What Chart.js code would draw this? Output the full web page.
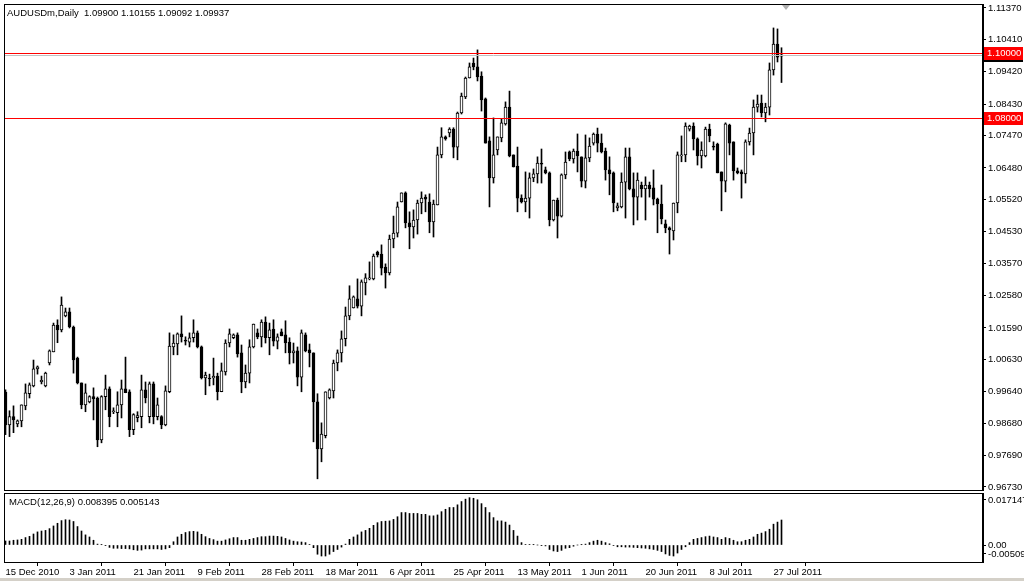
<!DOCTYPE html>
<html>
<head>
<meta charset="utf-8">
<script src="https://cdn.jsdelivr.net/npm/chart.js@4.4.0/dist/chart.umd.min.js"></script>
<style>
html, body { margin: 0; padding: 0; background: #fff; }
#wrap { position: relative; width: 1024px; height: 581px; overflow: hidden; }
#main { position: absolute; left: 0; top: 0; }
#macd { position: absolute; left: 0; top: 492px; }
#strip { position: absolute; left: 0; top: 578px; width: 1024px; height: 3px; background: #d4d0c8; }
</style>
</head>
<body>
<div id="wrap">
<canvas id="main" width="1024" height="492"></canvas>
<canvas id="macd" width="1024" height="86"></canvas>
<div id="strip"></div>
</div>
<script>
var symbol = 'AUDUSDm,Daily';
var macdName = 'MACD(12,26,9)';
var macdSignalLast = 0.005143;

// 6 bars a week (Sun-Fri), 15 Dec 2010 .. 29 Jul 2011
var dateLabels = ['15 Dec 2010', '3 Jan 2011', '21 Jan 2011', '9 Feb 2011', '28 Feb 2011', '18 Mar 2011',
    '6 Apr 2011', '25 Apr 2011', '13 May 2011', '1 Jun 2011', '20 Jun 2011', '8 Jul 2011', '27 Jul 2011'];
var dateStep = 16;

var priceTicks = [1.11370, 1.10410, 1.09420, 1.08430, 1.07470, 1.06480, 1.05520, 1.04530,
    1.03570, 1.02580, 1.01590, 1.00630, 0.99640, 0.98680, 0.97690, 0.96730];
var levels = [1.10000, 1.08000];

var macdTickValues = [0.01512, 0, -0.00302];
var macdTickLabels = ['0.017147', '0.00', '-0.00509'];

var opens = [
    0.9963, 0.9863, 0.9888, 0.9866, 0.9875, 0.9921, 0.9958, 0.9982, 1.0034, 0.9995,
    0.9982, 1.0052, 1.0086, 1.0168, 1.0153, 1.0196, 1.0208, 1.0162, 1.0067, 0.9991,
    0.9924, 0.9933, 0.9949, 0.9945, 0.9817, 0.9949, 0.9973, 0.9903, 0.9900, 0.9924,
    0.9973, 0.9964, 0.9848, 0.9885, 0.9888, 0.9970, 0.9888, 0.9988, 0.9888, 0.9888,
    0.9863, 0.9964, 1.0101, 1.0110, 1.0141, 1.0122, 1.0116, 1.0129, 1.0144, 1.0101,
    1.0006, 1.0006, 1.0006, 1.0012, 0.9964, 1.0025, 1.0113, 1.0129, 1.0138, 1.0083,
    0.9994, 1.0021, 1.0101, 1.0144, 1.0132, 1.0177, 1.0129, 1.0156, 1.0119, 1.0147,
    1.0138, 1.0116, 1.0083, 1.0089, 1.0009, 1.0138, 1.0092, 1.0083, 0.9933, 0.9789,
    0.9830, 0.9945, 0.9967, 1.0052, 1.0083, 1.0126, 1.0196, 1.0220, 1.0248, 1.0226,
    1.0297, 1.0309, 1.0309, 1.0391, 1.0385, 1.0345, 1.0327, 1.0431, 1.0449, 1.0544,
    1.0572, 1.0480, 1.0468, 1.0489, 1.0541, 1.0559, 1.0544, 1.0483, 1.0535, 1.0688,
    1.0743, 1.0755, 1.0767, 1.0712, 1.0816, 1.0865, 1.0923, 1.0969, 1.0957, 1.0929,
    1.0859, 1.0731, 1.0618, 1.0703, 1.0740, 1.0783, 1.0834, 1.0688, 1.0654, 1.0556,
    1.0544, 1.0556, 1.0618, 1.0630, 1.0663, 1.0642, 1.0633, 1.0489, 1.0550, 1.0501,
    1.0627, 1.0697, 1.0676, 1.0700, 1.0682, 1.0608, 1.0679, 1.0724, 1.0752, 1.0724,
    1.0700, 1.0642, 1.0633, 1.0526, 1.0529, 1.0605, 1.0682, 1.0584, 1.0559, 1.0596,
    1.0584, 1.0596, 1.0587, 1.0553, 1.0538, 1.0477, 1.0465, 1.0456, 1.0541, 1.0685,
    1.0688, 1.0767, 1.0776, 1.0737, 1.0685, 1.0685, 1.0767, 1.0715, 1.0721, 1.0636,
    1.0608, 1.0779, 1.0728, 1.0639, 1.0636, 1.0630, 1.0728, 1.0755, 1.0834, 1.0846,
    1.0816, 1.0834, 1.0948, 1.1027, 1.09900
];
var highs = [
    0.9970, 0.9906, 0.9921, 0.9878, 0.9924, 0.9988, 0.9991, 1.0061, 1.0043, 1.0012,
    1.0024, 1.0092, 1.0174, 1.0184, 1.0254, 1.0220, 1.0220, 1.0165, 1.0070, 0.9991,
    0.9988, 0.9952, 0.9976, 0.9948, 0.9952, 1.0015, 0.9979, 0.9915, 0.9964, 1.0000,
    1.0070, 0.9970, 0.9897, 0.9903, 1.0015, 0.9994, 0.9994, 0.9994, 0.9945, 0.9891,
    0.9982, 1.0144, 1.0138, 1.0144, 1.0196, 1.0132, 1.0144, 1.0184, 1.0150, 1.0104,
    1.0024, 1.0018, 1.0067, 1.0021, 1.0052, 1.0123, 1.0156, 1.0141, 1.0144, 1.0107,
    1.0046, 1.0123, 1.0171, 1.0156, 1.0184, 1.0193, 1.0174, 1.0184, 1.0141, 1.0156,
    1.0181, 1.0129, 1.0113, 1.0101, 1.0153, 1.0144, 1.0110, 1.0083, 0.9958, 0.9869,
    0.9964, 0.9973, 1.0061, 1.0092, 1.0150, 1.0223, 1.0288, 1.0257, 1.0309, 1.0306,
    1.0325, 1.0361, 1.0385, 1.0394, 1.0413, 1.0355, 1.0443, 1.0501, 1.0544, 1.0572,
    1.0575, 1.0514, 1.0520, 1.0550, 1.0575, 1.0566, 1.0569, 1.0550, 1.0712, 1.0771,
    1.0746, 1.0771, 1.0771, 1.0819, 1.0877, 1.0926, 1.0969, 1.0984, 1.1009, 1.0942,
    1.0862, 1.0743, 1.0801, 1.0743, 1.0798, 1.0850, 1.0883, 1.0688, 1.0712, 1.0566,
    1.0636, 1.0633, 1.0645, 1.0682, 1.0706, 1.0651, 1.0636, 1.0550, 1.0556, 1.0630,
    1.0697, 1.0700, 1.0706, 1.0752, 1.0682, 1.0749, 1.0740, 1.0755, 1.0770, 1.0752,
    1.0709, 1.0682, 1.0636, 1.0541, 1.0633, 1.0709, 1.0709, 1.0633, 1.0633, 1.0605,
    1.0621, 1.0605, 1.0642, 1.0556, 1.0596, 1.0489, 1.0468, 1.0541, 1.0697, 1.0746,
    1.0786, 1.0779, 1.0786, 1.0740, 1.0728, 1.0773, 1.0782, 1.0728, 1.0724, 1.0636,
    1.0786, 1.0782, 1.0728, 1.0648, 1.0642, 1.0734, 1.0770, 1.0856, 1.0871, 1.0871,
    1.0846, 1.0969, 1.1076, 1.1073, 1.10155
];
var lows = [
    0.9833, 0.9827, 0.9839, 0.9857, 0.9857, 0.9909, 0.9945, 0.9979, 1.0018, 0.9988,
    0.9979, 1.0046, 1.0086, 1.0114, 1.0147, 1.0193, 1.0159, 1.0021, 0.9988, 0.9912,
    0.9903, 0.9930, 0.9878, 0.9796, 0.9808, 0.9909, 0.9857, 0.9897, 0.9857, 0.9884,
    0.9961, 0.9827, 0.9833, 0.9872, 0.9854, 0.9930, 0.9869, 0.9866, 0.9878, 0.9851,
    0.9860, 0.9961, 1.0077, 1.0077, 1.0116, 1.0107, 1.0101, 1.0116, 1.0098, 1.0003,
    0.9955, 0.9982, 0.9985, 0.9939, 0.9964, 1.0015, 1.0101, 1.0126, 1.0070, 0.9961,
    0.9976, 0.9991, 1.0098, 1.0126, 1.0101, 1.0113, 1.0077, 1.0104, 1.0095, 1.0135,
    1.0083, 1.0049, 1.0052, 0.9982, 0.9964, 1.0086, 1.0040, 0.9811, 0.9698, 0.9750,
    0.9823, 0.9942, 0.9945, 1.0028, 1.0055, 1.0104, 1.0184, 1.0220, 1.0220, 1.0196,
    1.0260, 1.0306, 1.0306, 1.0376, 1.0321, 1.0281, 1.0321, 1.0404, 1.0437, 1.0544,
    1.0465, 1.0401, 1.0434, 1.0446, 1.0508, 1.0514, 1.0450, 1.0437, 1.0535, 1.0679,
    1.0733, 1.0743, 1.0679, 1.0673, 1.0813, 1.0860, 1.0923, 1.0948, 1.0914, 1.0822,
    1.0724, 1.0529, 1.0602, 1.0688, 1.0728, 1.0779, 1.0682, 1.0651, 1.0514, 1.0541,
    1.0514, 1.0495, 1.0606, 1.0602, 1.0602, 1.0630, 1.0471, 1.0486, 1.0434, 1.0498,
    1.0615, 1.0670, 1.0663, 1.0636, 1.0590, 1.0587, 1.0667, 1.0718, 1.0697, 1.0694,
    1.0611, 1.0566, 1.0514, 1.0517, 1.0526, 1.0495, 1.0581, 1.0474, 1.0489, 1.0559,
    1.0489, 1.0559, 1.0535, 1.0450, 1.0477, 1.0450, 1.0385, 1.0428, 1.0511, 1.0667,
    1.0667, 1.0761, 1.0703, 1.0657, 1.0648, 1.0682, 1.0728, 1.0703, 1.0633, 1.0517,
    1.0575, 1.0688, 1.0611, 1.0630, 1.0556, 1.0602, 1.0718, 1.0688, 1.0819, 1.0804,
    1.0789, 1.0810, 1.0932, 1.0972, 1.09092
];
var closes = [
    0.9863, 0.9888, 0.9878, 0.9875, 0.9924, 0.9961, 0.9985, 1.0034, 1.0040, 0.9999,
    1.0021, 1.0089, 1.0168, 1.0153, 1.0229, 1.0208, 1.0162, 1.0061, 0.9991, 0.9924,
    0.9961, 0.9949, 0.9942, 0.9817, 0.9949, 0.9973, 0.9888, 0.9906, 0.9924, 0.9973,
    0.9961, 0.9848, 0.9894, 0.9891, 0.9970, 0.9945, 0.9988, 0.9888, 0.9924, 0.9863,
    0.9967, 1.0104, 1.0113, 1.0141, 1.0132, 1.0119, 1.0129, 1.0144, 1.0101, 1.0006,
    1.0015, 1.0003, 1.0012, 0.9964, 1.0028, 1.0113, 1.0141, 1.0138, 1.0080, 0.9994,
    1.0021, 1.0101, 1.0171, 1.0132, 1.0177, 1.0129, 1.0153, 1.0119, 1.0132, 1.0135,
    1.0113, 1.0083, 1.0089, 1.0009, 1.0144, 1.0089, 1.0083, 0.9933, 0.9789, 0.9835,
    0.9964, 0.9970, 1.0052, 1.0083, 1.0126, 1.0196, 1.0248, 1.0254, 1.0226, 1.0300,
    1.0312, 1.0312, 1.0379, 1.0382, 1.0342, 1.0327, 1.0431, 1.0449, 1.0529, 1.0572,
    1.0480, 1.0468, 1.0489, 1.0541, 1.0556, 1.0553, 1.0483, 1.0538, 1.0688, 1.0743,
    1.0737, 1.0767, 1.0712, 1.0816, 1.0868, 1.0923, 1.0957, 1.0957, 1.0926, 1.0856,
    1.0724, 1.0618, 1.0688, 1.0743, 1.0786, 1.0834, 1.0685, 1.0651, 1.0556, 1.0544,
    1.0556, 1.0618, 1.0630, 1.0663, 1.0660, 1.0633, 1.0489, 1.0550, 1.0501, 1.0627,
    1.0666, 1.0676, 1.0700, 1.0685, 1.0608, 1.0679, 1.0715, 1.0752, 1.0724, 1.0697,
    1.0642, 1.0630, 1.0541, 1.0532, 1.0605, 1.0682, 1.0584, 1.0559, 1.0611, 1.0584,
    1.0596, 1.0584, 1.0553, 1.0538, 1.0492, 1.0465, 1.0459, 1.0541, 1.0688, 1.0688,
    1.0776, 1.0776, 1.0737, 1.0685, 1.0703, 1.0767, 1.0746, 1.0712, 1.0633, 1.0608,
    1.0783, 1.0724, 1.0639, 1.0633, 1.0630, 1.0728, 1.0755, 1.0834, 1.0843, 1.0816,
    1.0834, 1.0948, 1.1027, 1.0987, 1.09937
];
var macd = [
    0.00135, 0.00135, 0.0016, 0.0017, 0.0019, 0.0025, 0.0029, 0.0037, 0.0044, 0.0047,
    0.0049, 0.0055, 0.0064, 0.0073, 0.0082, 0.0085, 0.0084, 0.0079, 0.0062, 0.0047,
    0.0034, 0.0027, 0.0016, 0.0003, 0.0001, -0.0001, -0.0008, -0.0011, -0.0011, -0.0012,
    -0.0012, -0.0013, -0.0016, -0.0018, -0.0017, -0.0013, -0.0013, -0.0013, -0.0013, -0.0015,
    -0.0013, -0.0009, 0.0011, 0.0027, 0.0036, 0.0042, 0.0045, 0.0046, 0.0044, 0.0036,
    0.0028, 0.0022, 0.0018, 0.0013, 0.0013, 0.0017, 0.0021, 0.0025, 0.0025, 0.0016,
    0.0016, 0.0019, 0.0022, 0.0025, 0.0028, 0.0028, 0.0030, 0.0030, 0.0029, 0.0027,
    0.0022, 0.0017, 0.0013, 0.0011, 0.0010, 0.0008, 0.0002, -0.0009, -0.0031, -0.0037,
    -0.0037, -0.0031, -0.0022, -0.0015, -0.0007, 0.0003, 0.0019, 0.0027, 0.0034, 0.0044,
    0.0049, 0.0056, 0.0066, 0.0075, 0.0079, 0.0080, 0.0081, 0.0086, 0.0095, 0.0109,
    0.0109, 0.0106, 0.0106, 0.0106, 0.0103, 0.0103, 0.0098, 0.0098, 0.0101, 0.0112,
    0.0120, 0.0126, 0.0126, 0.0135, 0.0146, 0.0154, 0.0159, 0.0157, 0.0152, 0.0139,
    0.0126, 0.0109, 0.0092, 0.0081, 0.0081, 0.0077, 0.0067, 0.0049, 0.0030, 0.0008,
    0.0002, 0.0002, 0.0001, 0.0000, -0.0001, -0.0003, -0.0015, -0.0020, -0.0022, -0.0018,
    -0.0011, -0.0009, -0.0004, 0.0000, 0.0001, 0.0003, 0.0008, 0.0013, 0.0016, 0.0013,
    0.0008, 0.0004, -0.0002, -0.0006, -0.0006, -0.0007, -0.0007, -0.0008, -0.0009, -0.0010,
    -0.0011, -0.0013, -0.0015, -0.0018, -0.0022, -0.0030, -0.0035, -0.0037, -0.0027, -0.0015,
    -0.0006, 0.0008, 0.0019, 0.0022, 0.0025, 0.0028, 0.0030, 0.0027, 0.0025, 0.0019,
    0.0025, 0.0022, 0.0016, 0.0011, 0.0011, 0.0016, 0.0019, 0.0027, 0.0036, 0.0040,
    0.0045, 0.0053, 0.0070, 0.0077, 0.008395
];

var FONT = '"Liberation Sans", Arial, sans-serif';
var FSIZE = 9.5;
var xMin = -0.375, xMax = 244.375;
var last = opens.length - 1;
var bidPrice = closes[last];

var wicks = highs.map(function (h, i) { return { x: i, y: [lows[i], h] }; });
var bodies = opens.map(function (o, i) {
    return { x: i, y: [Math.min(o, closes[i]), Math.max(o, closes[i])] };
});

// keep chart area edges fixed: no room reserved for half labels
function noMargins(s) {
    s.paddingTop = 0; s.paddingBottom = 0; s.paddingLeft = 0; s.paddingRight = 0;
}

function frame(chart) {
    var a = chart.chartArea, ctx = chart.ctx;
    ctx.save();
    ctx.strokeStyle = '#000';
    ctx.lineWidth = 1;
    ctx.strokeRect(a.left + 0.5, a.top + 0.5, a.right - a.left - 1, a.bottom - a.top);
    ctx.restore();
}

function axisBox(chart, value, fill, text) {
    var ctx = chart.ctx, a = chart.chartArea;
    var py = Math.round(chart.scales.y.getPixelForValue(value));
    ctx.fillStyle = fill;
    ctx.fillRect(a.right + 1, py - 6, chart.width - a.right - 2, 13);
    ctx.fillStyle = '#fff';
    ctx.textAlign = 'left';
    ctx.textBaseline = 'middle';
    ctx.font = FSIZE + 'px ' + FONT;
    ctx.fillText(text, a.right + 4, py + 0.5);
}

var mainDecor = {
    id: 'mainDecor',
    afterDatasetsDraw: function (chart) {
        var a = chart.chartArea, ctx = chart.ctx, y = chart.scales.y;
        ctx.save();
        ctx.lineWidth = 1;
        var yb = Math.round(y.getPixelForValue(bidPrice)) + 0.5;
        ctx.strokeStyle = '#c0c0c0';
        ctx.beginPath(); ctx.moveTo(a.left, yb); ctx.lineTo(a.right, yb); ctx.stroke();
        ctx.strokeStyle = '#ff0000';
        levels.forEach(function (v) {
            var py = Math.round(y.getPixelForValue(v)) + 0.5;
            ctx.beginPath(); ctx.moveTo(a.left, py); ctx.lineTo(a.right, py); ctx.stroke();
        });
        ctx.restore();
    },
    afterDraw: function (chart) {
        var a = chart.chartArea, ctx = chart.ctx;
        frame(chart);
        ctx.save();
        axisBox(chart, bidPrice, '#000', bidPrice.toFixed(5));
        levels.forEach(function (v) { axisBox(chart, v, '#ff0000', v.toFixed(5)); });
        // title
        ctx.fillStyle = '#000';
        ctx.font = FSIZE + 'px ' + FONT;
        ctx.textAlign = 'left';
        ctx.textBaseline = 'middle';
        ctx.fillText(symbol + '  ' + opens[last].toFixed(5) + ' ' + highs[last].toFixed(5) + ' ' +
            lows[last].toFixed(5) + ' ' + closes[last].toFixed(5), a.left + 3, a.top + 9);
        // chart shift marker
        var sx = Math.round(chart.scales.x.getPixelForValue(opens.length));
        ctx.fillStyle = '#b0b0b0';
        ctx.beginPath();
        ctx.moveTo(sx - 4, a.top + 1); ctx.lineTo(sx + 4, a.top + 1); ctx.lineTo(sx, a.top + 6);
        ctx.closePath(); ctx.fill();
        ctx.restore();
    }
};

var macdDecor = {
    id: 'macdDecor',
    afterDraw: function (chart) {
        var a = chart.chartArea, ctx = chart.ctx;
        frame(chart);
        ctx.save();
        ctx.fillStyle = '#000';
        ctx.font = FSIZE + 'px ' + FONT;
        ctx.textAlign = 'left';
        ctx.textBaseline = 'middle';
        ctx.fillText(macdName + ' ' + macd[last].toFixed(6) + ' ' + macdSignalLast.toFixed(6), a.left + 5, a.top + 9);
        ctx.restore();
    }
};

new Chart(document.getElementById('main').getContext('2d'), {
    type: 'bar',
    data: {
        datasets: [{
            data: bodies,
            order: 0,
            barThickness: 3,
            minBarLength: 1,
            borderWidth: 1,
            borderColor: '#000',
            borderSkipped: false,
            backgroundColor: function (c) {
                var i = c.dataIndex;
                return closes[i] >= opens[i] ? '#fff' : '#000';
            }
        }, {
            data: wicks,
            order: 1,
            barThickness: 1,
            minBarLength: 1,
            borderWidth: 0,
            backgroundColor: '#000'
        }]
    },
    options: {
        responsive: false,
        animation: false,
        events: [],
        layout: { padding: { left: 4, top: 4, right: 0, bottom: 2 } },
        datasets: { bar: { grouped: false } },
        plugins: { legend: { display: false }, tooltip: { enabled: false } },
        scales: {
            x: { type: 'linear', offset: false, min: xMin, max: xMax, display: false },
            y: {
                position: 'right',
                min: 0.96638,
                max: 1.11492,
                beginAtZero: false,
                afterFit: function (s) { s.width = 41; noMargins(s); },
                afterBuildTicks: function (s) {
                    s.ticks = priceTicks.map(function (v) { return { value: v }; });
                },
                ticks: {
                    callback: function (v) { return v.toFixed(5); },
                    crossAlign: 'near',
                    padding: 2,
                    color: '#000',
                    font: { family: FONT, size: FSIZE }
                },
                grid: { drawOnChartArea: false, tickLength: 3, color: '#000' },
                border: { color: '#000' }
            }
        }
    },
    plugins: [mainDecor]
});

new Chart(document.getElementById('macd').getContext('2d'), {
    type: 'bar',
    data: {
        datasets: [{
            data: macd.map(function (v, i) { return { x: i, y: v }; }),
            barThickness: 1,
            borderWidth: 0,
            backgroundColor: '#000'
        }]
    },
    options: {
        responsive: false,
        animation: false,
        events: [],
        layout: { padding: { left: 4, top: 1, right: 0, bottom: 0 } },
        plugins: { legend: { display: false }, tooltip: { enabled: false } },
        scales: {
            x: {
                type: 'linear',
                offset: false,
                min: xMin,
                max: xMax,
                afterFit: function (s) { s.height = 16; noMargins(s); },
                afterBuildTicks: function (s) {
                    s.ticks = dateLabels.map(function (d, k) { return { value: k * dateStep }; });
                },
                ticks: {
                    callback: function (v) { return dateLabels[Math.round(v / dateStep)]; },
                    align: 'start',
                    maxRotation: 0,
                    autoSkip: false,
                    padding: 1,
                    color: '#000',
                    font: { family: FONT, size: FSIZE }
                },
                grid: { drawOnChartArea: false, tickLength: 4, color: '#000' },
                border: { color: '#000' }
            },
            y: {
                position: 'right',
                min: -0.00571,
                max: 0.01747,
                beginAtZero: false,
                afterFit: function (s) { s.width = 41; noMargins(s); },
                afterBuildTicks: function (s) {
                    s.ticks = macdTickValues.map(function (v) { return { value: v }; });
                },
                ticks: {
                    callback: function (v, k) { return macdTickLabels[k]; },
                    crossAlign: 'near',
                    padding: 2,
                    color: '#000',
                    font: { family: FONT, size: FSIZE }
                },
                grid: { drawOnChartArea: false, tickLength: 3, color: '#000' },
                border: { color: '#000' }
            }
        }
    },
    plugins: [macdDecor]
});
</script>
</body>
</html>
